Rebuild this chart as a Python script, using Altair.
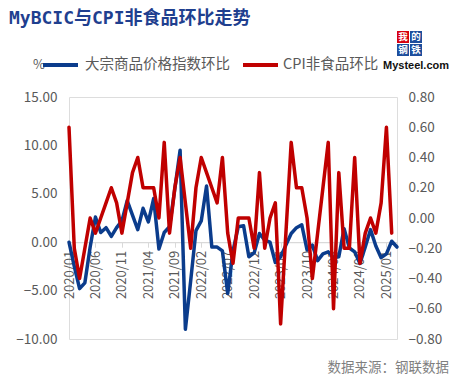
import altair as alt
import pandas as pd

# ---- data ----
months = [f"{y}/{m:02d}" for y in range(2020, 2026) for m in range(1, 13)][:63]

bcic = [0.0, -2.5, -4.8, -4.2, -0.5, 2.6, 1.0, 1.5, 0.6, 1.5,
        2.2, 4.3, 2.8, 1.3, 3.5, 2.1, 4.5, -0.7, 1.0, 1.6,
        5.5, 9.5, -9.0, -4.0, 1.2, 2.2, 5.8, -0.5, -0.5, -0.9,
        -5.3, -0.9, 1.6, 1.7, -1.5, -1.1, 0.9, 0.2, 0.0, -2.1,
        -1.5, -0.3, 0.9, 1.5, 1.8, -0.8, -0.3, -1.9, -1.2, -1.0,
        -1.6, -1.5, 1.4, -0.6, -1.0, -2.2, -0.5, 1.3, -0.4, -1.6,
        -1.2, 0.1, -0.5]

cpi_nonfood = [0.6, -0.2, -0.4, -0.2, 0.0, -0.1, 0.0, 0.1, 0.2, 0.1,
               -0.1, 0.1, 0.3, 0.4, 0.2, 0.2, 0.2, 0.0, 0.5, -0.1,
               0.2, 0.4, 0.1, -0.2, 0.2, 0.4, 0.3, 0.2, 0.1, 0.4,
               -0.1, -0.3, 0.0, 0.0, 0.0, -0.2, 0.3, -0.2, 0.0, 0.1,
               -0.7, -0.1, 0.5, 0.2, 0.2, 0.0, -0.4, -0.1, 0.2, 0.5,
               -0.6, 0.3, -0.2, -0.2, 0.4, -0.3, -0.1, 0.0, -0.1, 0.1,
               0.6, -0.1, None]

x_tick_labels = months[::5]
left_ticks = [-10, -5, 0, 5, 10, 15]
right_ticks = [-0.8, -0.6, -0.4, -0.2, 0.0, 0.2, 0.4, 0.6, 0.8]

df = pd.DataFrame({"month": months, "bcic": bcic, "cpi": cpi_nonfood})

BLUE = "#0B3C8C"
RED = "#C00000"
GRAY = "#595959"
FONT = "Noto Sans CJK SC"

W, H = 328, 242

x_enc = alt.X(
    "month:O", sort=months,
    scale=alt.Scale(type="point", padding=0),
    axis=alt.Axis(values=x_tick_labels, labelAngle=270, title=None,
                  labelColor=GRAY, labelFontSize=13, labelFont=FONT,
                  domainColor="#D9D9D9", domainWidth=1.2,
                  tickColor="#D9D9D9", tickSize=5, labelPadding=3,
                  offset=-(H * 10 / 25), grid=False),
)

base = alt.Chart(df)

blue_line = base.mark_line(color=BLUE, strokeWidth=3.5, strokeJoin="round", strokeCap="round").encode(
    x=x_enc,
    y=alt.Y("bcic:Q", scale=alt.Scale(domain=[-10, 15], nice=False, zero=False),
            axis=alt.Axis(orient="left", values=left_ticks, format=".2f", title=None,
                          domain=False, ticks=False, grid=False, labelPadding=12,
                          labelColor=GRAY, labelFontSize=13.5, labelFont=FONT)),
)

red_line = base.mark_line(color=RED, strokeWidth=3.5, strokeJoin="round", strokeCap="round").encode(
    x=alt.X("month:O", sort=months),
    y=alt.Y("cpi:Q", scale=alt.Scale(domain=[-0.8, 0.8], nice=False, zero=False),
            axis=alt.Axis(orient="right", values=right_ticks, format=".2f", title=None,
                          domain=False, ticks=False, grid=False, labelPadding=11,
                          labelColor=GRAY, labelFontSize=13.5, labelFont=FONT)),
)

one = alt.Data(values=[{"k": 1}])


def txt(s, x, y, size, color, align="left", weight="normal", font=FONT):
    return alt.Chart(one).mark_text(
        text=s, align=align, baseline="middle", fontSize=size, color=color,
        fontWeight=weight, font=font,
    ).encode(x=alt.value(x), y=alt.value(y))


def swatch(x1, x2, y, color):
    return alt.Chart(one).mark_rule(color=color, strokeWidth=4).encode(
        x=alt.value(x1), x2=alt.value(x2), y=alt.value(y))


def box(x1, x2, y1, y2, color):
    return alt.Chart(one).mark_rect(color=color).encode(
        x=alt.value(x1), x2=alt.value(x2), y=alt.value(y1), y2=alt.value(y2))


title = txt("MyBCIC与CPI非食品环比走势", -60, -78, 18, "#1F3F8F", weight="bold",
            font="DejaVu Sans Mono, Noto Sans CJK SC")

legend = [
    txt("%", -36, -32, 13, GRAY),
    swatch(-26, 9, -32, BLUE),
    txt("大宗商品价格指数环比", 16, -32, 14.5, GRAY),
    swatch(174, 209, -32, RED),
    txt("CPI非食品环比", 214, -32, 14.5, GRAY),
]

logo = [
    box(328, 340, -66, -54, "#D7000F"),
    box(341, 353, -66, -54, "#1E4E9C"),
    box(328, 340, -53, -41, "#1E4E9C"),
    box(341, 353, -53, -41, "#1E4E9C"),
    txt("我", 334, -60, 9.5, "white", align="center", weight="bold"),
    txt("的", 347, -60, 9.5, "white", align="center", weight="bold"),
    txt("钢", 334, -47, 9.5, "white", align="center", weight="bold"),
    txt("铁", 347, -47, 9.5, "white", align="center", weight="bold"),
    txt("Mysteel.com", 347, -31, 11, "#111111", align="center", weight="bold",
        font="Liberation Sans"),
]

footer = txt("数据来源：钢联数据", 380, 271, 13.5, "#7F7F7F", align="right")

chart = alt.layer(
    blue_line, red_line, title, *legend, *logo, footer
).resolve_scale(y="independent").properties(
    width=W, height=H,
    autosize=alt.AutoSizeParams(type="none"),
    padding={"left": 61, "top": 89, "right": 54, "bottom": 38},
).configure_view(stroke=None).configure(background="white")

chart.save("out.html", embed_options={"renderer": "svg", "actions": False})
